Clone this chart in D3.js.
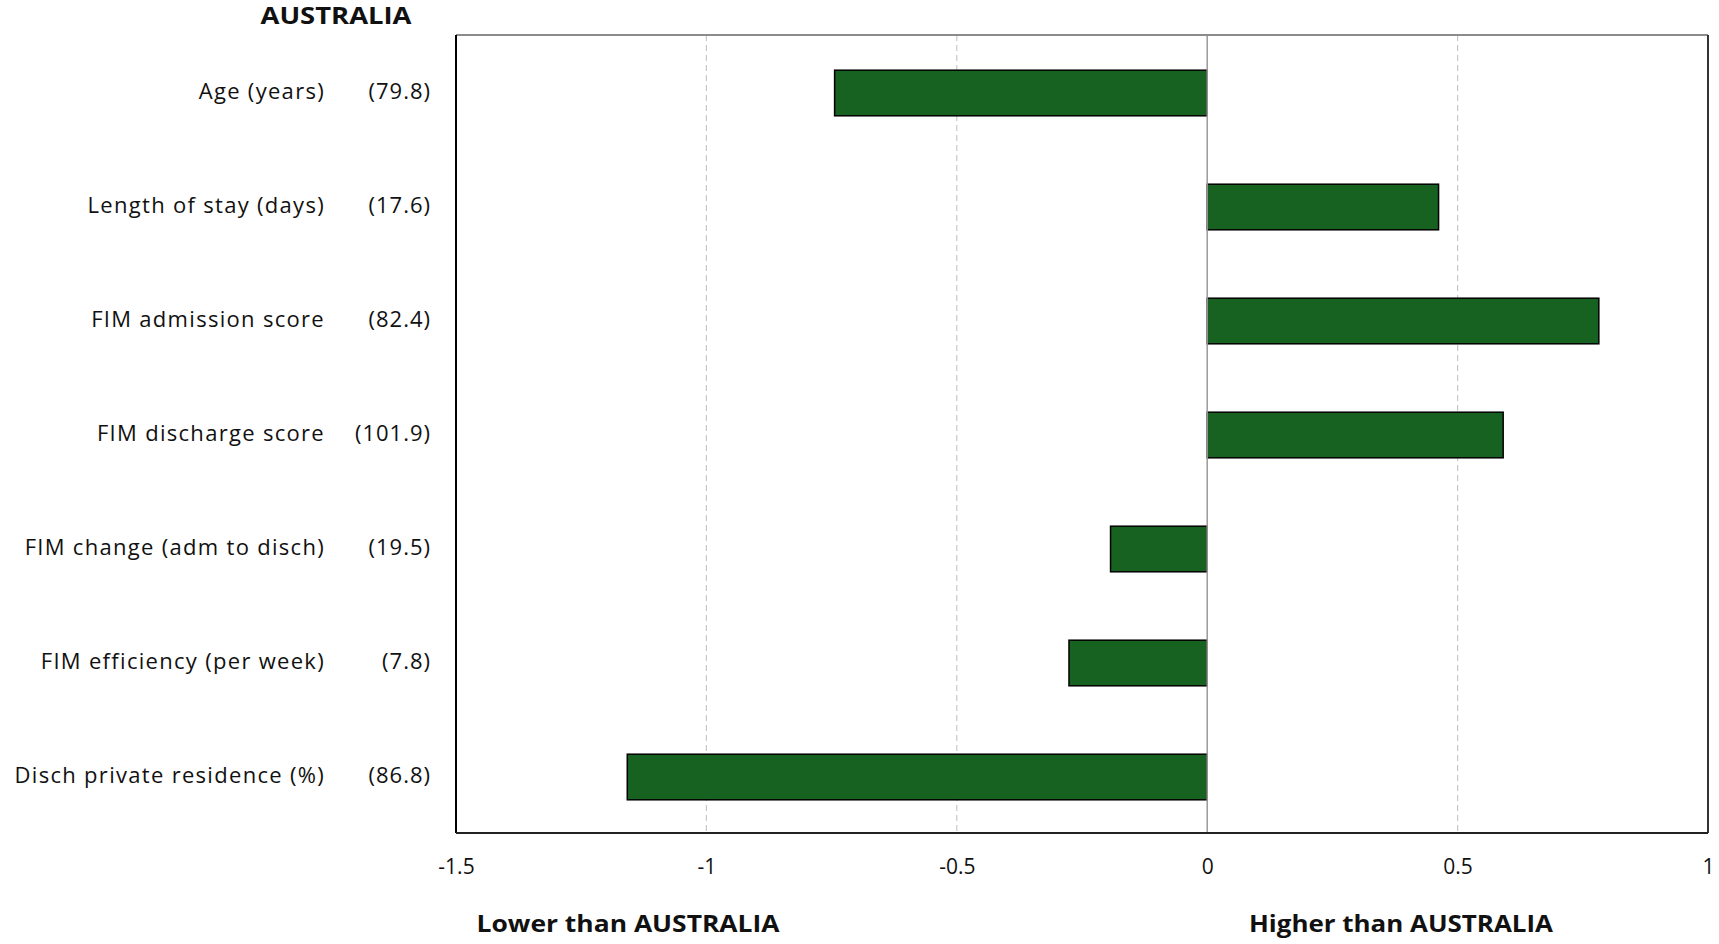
<!DOCTYPE html>
<html><head><meta charset="utf-8">
<script src="https://cdn.jsdelivr.net/npm/d3@7"></script>
<style>
html,body{margin:0;padding:0;background:#fff;}
svg{display:block;}
text{font-family:"Open Sans", "Noto Sans", sans-serif;fill:#111;}
</style></head>
<body>
<script>
const categories = ["Age (years)","Length of stay (days)","FIM admission score","FIM discharge score","FIM change (adm to disch)","FIM efficiency (per week)","Disch private residence (%)"];
const benchmarks = ["(79.8)","(17.6)","(82.4)","(101.9)","(19.5)","(7.8)","(86.8)"];
const values = [-0.744, 0.462, 0.782, 0.591, -0.193, -0.276, -1.158];
const xTicks = [-1.5, -1, -0.5, 0, 0.5, 1];
const xTickLabels = ["-1.5","-1","-0.5","0","0.5","1"];
const title = "AUSTRALIA";
const lowerLabel = "Lower than AUSTRALIA";
const higherLabel = "Higher than AUSTRALIA";

const W = 1719, H = 944;
const m = {left:456, right:11, top:35, bottom:111};
const svg = d3.select("body").append("svg").attr("width",W).attr("height",H);

const x = d3.scaleLinear().domain([-1.5,1]).range([m.left, W-m.right]);
const y = d3.scaleBand().domain(categories).range([m.top, H-m.bottom]).paddingInner(0.6).paddingOuter(0.3);

// gridlines
svg.append("g").selectAll("line").data(xTicks.filter(t=>t!==0 && t!==-1.5 && t!==1)).join("line")
  .attr("x1",d=>x(d)).attr("x2",d=>x(d)).attr("y1",m.top).attr("y2",H-m.bottom)
  .attr("stroke","#c8c8c8").attr("stroke-width",1.2).attr("stroke-dasharray","6,4");

// bars
svg.append("g").selectAll("rect").data(values).join("rect")
  .attr("x",(d)=>x(Math.min(0,d))).attr("width",d=>Math.abs(x(d)-x(0)))
  .attr("y",(d,i)=>y(categories[i])+1).attr("height",y.bandwidth())
  .attr("fill","#176121").attr("stroke","#000").attr("stroke-width",1.5);

// zero line
svg.append("line").attr("x1",x(0)).attr("x2",x(0)).attr("y1",m.top).attr("y2",H-m.bottom)
  .attr("stroke","#999").attr("stroke-width",1.5);

// frame
const L = m.left, R = W-m.right, T = m.top, B = H-m.bottom;
svg.append("line").attr("x1",L).attr("x2",R).attr("y1",T).attr("y2",T).attr("stroke","#8c8c8c").attr("stroke-width",2);
svg.append("line").attr("x1",L).attr("x2",L).attr("y1",T).attr("y2",B).attr("stroke","#000").attr("stroke-width",2);
svg.append("line").attr("x1",R).attr("x2",R).attr("y1",T).attr("y2",B).attr("stroke","#333").attr("stroke-width",2);
svg.append("line").attr("x1",L).attr("x2",R).attr("y1",B).attr("y2",B).attr("stroke","#222").attr("stroke-width",2);

// x axis tick labels
const xAxis = d3.axisBottom(x).tickValues(xTicks).tickFormat((d,i)=>xTickLabels[i]).tickSize(0).tickPadding(26);
const gx = svg.append("g").attr("transform",`translate(0,${B})`).call(xAxis);
gx.select(".domain").remove();
gx.selectAll("text").attr("font-family","\"Open Sans\", sans-serif").attr("font-size",21).attr("fill","#111");

// category labels
svg.append("g").selectAll("text").data(categories).join("text")
  .attr("x",325).attr("y",d=>y(d)+y.bandwidth()/2-1).attr("dy","0.35em")
  .attr("text-anchor","end").attr("font-size",22).attr("letter-spacing","1.3px").text(d=>d);
svg.append("g").selectAll("text").data(benchmarks).join("text")
  .attr("x",431).attr("y",(d,i)=>y(categories[i])+y.bandwidth()/2-1).attr("dy","0.35em")
  .attr("text-anchor","end").attr("font-size",22).attr("letter-spacing","1px").text(d=>d);

// title & side labels
function boldLabel(txt, cx, cy, len){
  svg.append("text").attr("x",cx).attr("y",cy).attr("text-anchor","middle")
    .attr("font-weight","bold").attr("font-size",23).attr("dy","0.35em")
    .attr("textLength",len).attr("lengthAdjust","spacingAndGlyphs").text(txt);
}
boldLabel(title, 336, 16, 151);
boldLabel(lowerLabel, 628, 924, 303);
boldLabel(higherLabel, 1401, 924, 304);
</script>
</body></html>
